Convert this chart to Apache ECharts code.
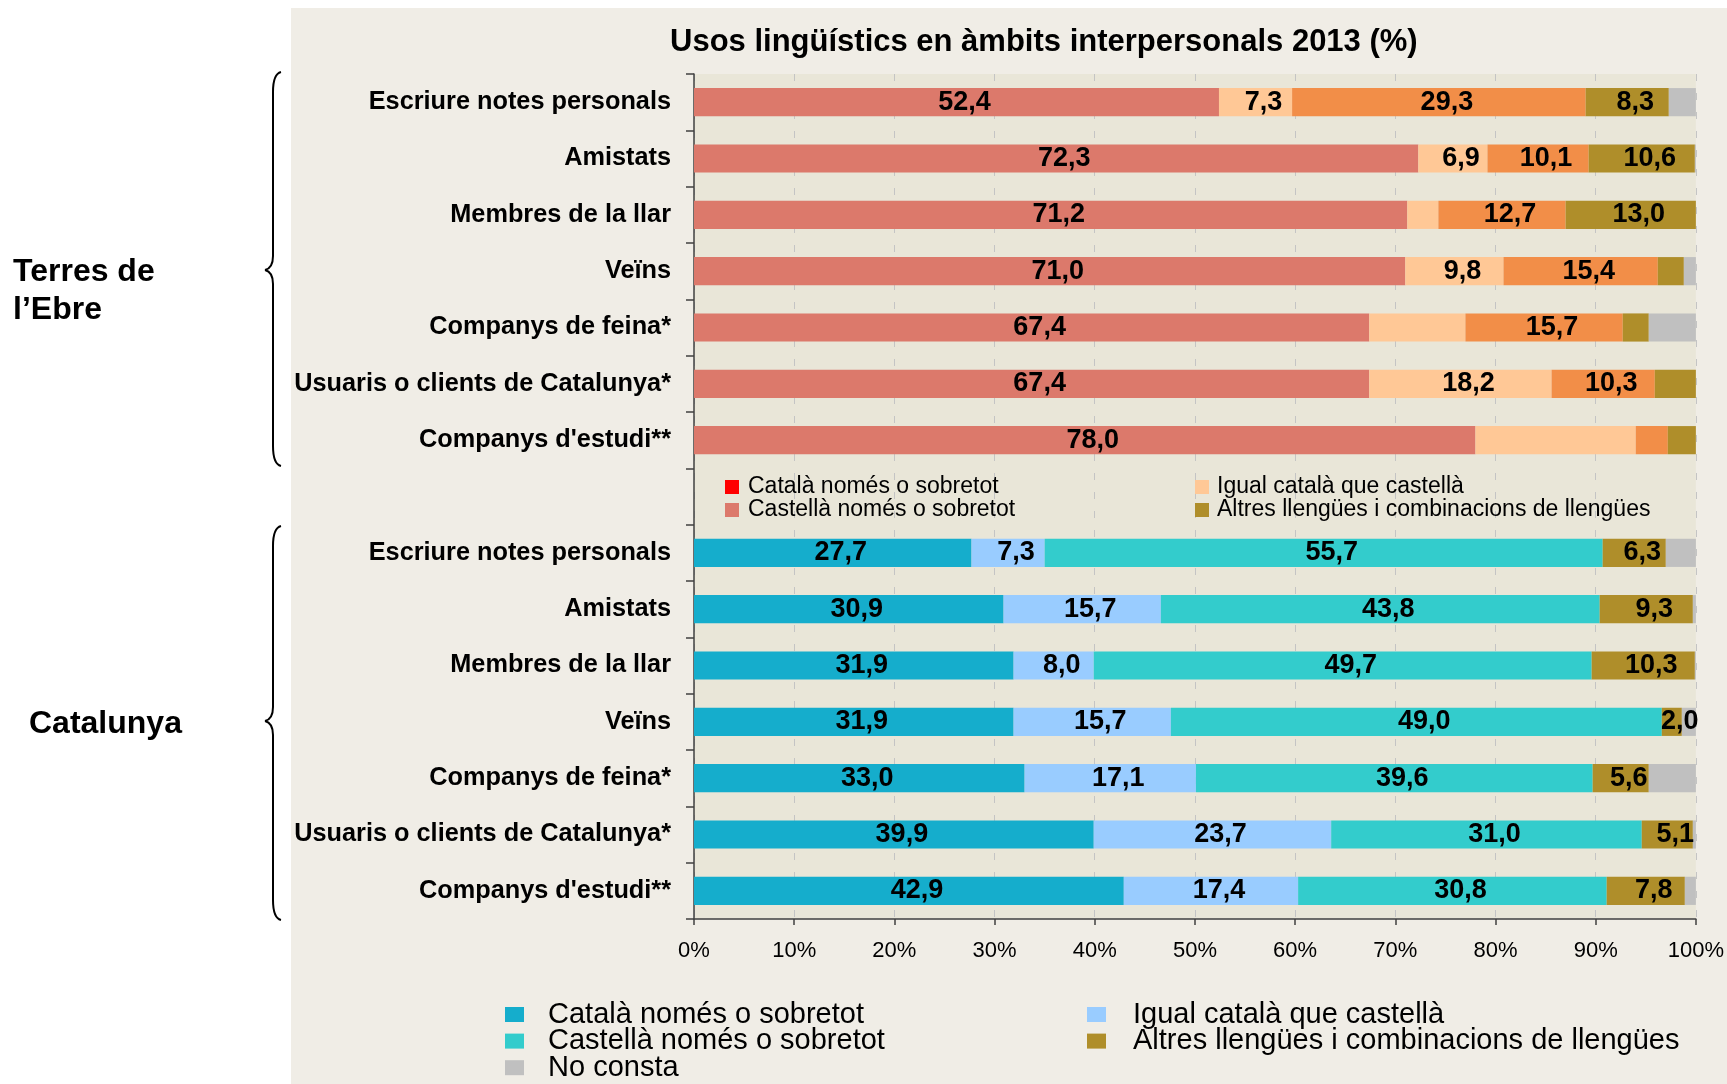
<!DOCTYPE html>
<html>
<head>
<meta charset="utf-8">
<script src="https://cdn.jsdelivr.net/npm/echarts@6/dist/echarts.min.js"></script>
<style>
  html, body { margin: 0; padding: 0; background: #ffffff; }
  #chart { width: 1727px; height: 1084px; }
</style>
</head>
<body>
<div id="chart"></div>
<script>
// ---------- DATA ----------
const categories = ['Escriure notes personals', 'Amistats', 'Membres de la llar', 'Veïns',
  'Companys de feina*', 'Usuaris o clients de Catalunya*', "Companys d'estudi**"];

const seriesNames = ['Català només o sobretot', 'Igual català que castellà',
  'Castellà només o sobretot', 'Altres llengües i combinacions de llengües', 'No consta'];

// Terres de l'Ebre
const terresCatala   = [52.4, 72.3, 71.2, 71.0, 67.4, 67.4, 78.0];
const terresIgual    = [7.3, 6.9, 3.1, 9.8, 9.6, 18.2, 16.0];
const terresCastella = [29.3, 10.1, 12.7, 15.4, 15.7, 10.3, 3.2];
const terresAltres   = [8.3, 10.6, 13.0, 2.6, 2.6, 4.1, 2.8];
const terresNoConsta = [2.7, 0.1, 0.0, 1.2, 4.7, 0.0, 0.0];

// Catalunya
const catCatala   = [27.7, 30.9, 31.9, 31.9, 33.0, 39.9, 42.9];
const catIgual    = [7.3, 15.7, 8.0, 15.7, 17.1, 23.7, 17.4];
const catCastella = [55.7, 43.8, 49.7, 49.0, 39.6, 31.0, 30.8];
const catAltres   = [6.3, 9.3, 10.3, 2.0, 5.6, 5.1, 7.8];
const catNoConsta = [3.0, 0.3, 0.1, 1.4, 4.7, 0.3, 1.1];

// which segments carry a value label in the original (1 = labelled)
const terresCatalaLbl   = [1, 1, 1, 1, 1, 1, 1];
const terresIgualLbl    = [1, 1, 0, 1, 0, 1, 0];
const terresCastellaLbl = [1, 1, 1, 1, 1, 1, 0];
const terresAltresLbl   = [1, 1, 1, 0, 0, 0, 0];
const noLbl             = [0, 0, 0, 0, 0, 0, 0];
const allLbl            = [1, 1, 1, 1, 1, 1, 1];

const xTicks = [0, 10, 20, 30, 40, 50, 60, 70, 80, 90, 100];

// ---------- STYLE ----------
const FONT = "'Liberation Sans', Arial, Helvetica, sans-serif";
const colTerres = ['#DC796B', '#FFC896', '#F28E48', '#AF8E2A', '#C0C0C0'];
const colCat    = ['#15ADCC', '#99CCFF', '#33CCCC', '#AF8E2A', '#C0C0C0'];

const yCategories = categories.concat([''], categories);
const gap = ['-', '-', '-', '-', '-', '-', '-', '-'];

function fmt(v) { return v.toFixed(1).replace('.', ','); }

function buildSeries(name, vals, lbl, color, first) {
  const items = vals.map((v, i) => ({ value: v, label: { show: !!lbl[i] } }));
  return {
    name: name,
    type: 'bar',
    stack: 'total',
    barWidth: '50%',
    itemStyle: { color: color },
    label: {
      position: 'inside',
      offset: [8, 0],
      color: '#000',
      fontFamily: FONT,
      fontWeight: 'bold',
      fontSize: 27,
      formatter: p => fmt(p.value)
    },
    emphasis: { disabled: true },
    data: first ? items.concat(gap) : gap.concat(items)
  };
}

const series = [
  buildSeries(seriesNames[0], catCatala,   allLbl, colCat[0], false),
  buildSeries(seriesNames[1], catIgual,    allLbl, colCat[1], false),
  buildSeries(seriesNames[2], catCastella, allLbl, colCat[2], false),
  buildSeries(seriesNames[3], catAltres,   allLbl, colCat[3], false),
  buildSeries(seriesNames[4], catNoConsta, noLbl,  colCat[4], false),
  buildSeries(seriesNames[0], terresCatala,   terresCatalaLbl,   colTerres[0], true),
  buildSeries(seriesNames[1], terresIgual,    terresIgualLbl,    colTerres[1], true),
  buildSeries(seriesNames[2], terresCastella, terresCastellaLbl, colTerres[2], true),
  buildSeries(seriesNames[3], terresAltres,   terresAltresLbl,   colTerres[3], true),
  buildSeries(seriesNames[4], terresNoConsta, noLbl,             colTerres[4], true)
];

function legendBox(left, top, names, colors, iw, ih, fs, lh, pad, gapY) {
  return {
    orient: 'vertical', left: left, top: top, padding: 0, itemGap: gapY,
    height: 150,
    itemWidth: iw, itemHeight: ih, icon: 'rect', selectedMode: false,
    data: names.map((n, i) => colors ? { name: n, itemStyle: { color: colors[i] } } : { name: n }),
    textStyle: { fontFamily: FONT, fontSize: fs, lineHeight: lh, color: '#000', padding: pad }
  };
}

// curly brace decoration (drawn with line + bezier pieces)
function brace(top, mid, bottom) {
  const xr = 281, xl = 273, xt = 265, st = { stroke: '#000', lineWidth: 2, fill: 'none' };
  const mk = (type, shape) => ({ type: type, silent: true, shape: shape, style: st });
  return [
    mk('bezierCurve', { x1: xr, y1: top, cpx1: xl, cpy1: top + 2, x2: xl, y2: top + 20 }),
    mk('line', { x1: xl, y1: top + 20, x2: xl, y2: mid - 14 }),
    mk('bezierCurve', { x1: xl, y1: mid - 14, cpx1: xl, cpy1: mid - 2, x2: xt, y2: mid }),
    mk('bezierCurve', { x1: xt, y1: mid, cpx1: xl, cpy1: mid + 2, x2: xl, y2: mid + 14 }),
    mk('line', { x1: xl, y1: mid + 14, x2: xl, y2: bottom - 20 }),
    mk('bezierCurve', { x1: xl, y1: bottom - 20, cpx1: xl, cpy1: bottom - 2, x2: xr, y2: bottom })
  ];
}

const chart = echarts.init(document.getElementById('chart'));
chart.setOption({
  backgroundColor: '#ffffff',
  animation: false,
  title: {
    text: 'Usos lingüístics en àmbits interpersonals 2013 (%)',
    left: 670, top: 27, padding: 0,
    textStyle: { fontFamily: FONT, fontSize: 31, fontWeight: 'bold', color: '#000' }
  },
  grid: {
    left: 694, right: 31, top: 74, bottom: 165,
    show: true, backgroundColor: '#E9E6D8', borderWidth: 0
  },
  legend: [
    legendBox(725, 475.5, [seriesNames[0], seriesNames[2]], ['#FF0000', colTerres[0]], 14, 14, 23, 23, [0, 0, 0, 4], 0),
    legendBox(1195, 475.5, [seriesNames[1], seriesNames[3]], [colTerres[1], colTerres[3]], 14, 14, 23, 23, [0, 0, 0, 3], 0),
    legendBox(505, 1000, [seriesNames[0], seriesNames[2], seriesNames[4]], null, 19, 15, 26.5, 26.5, [0, 0, 0, 19], -2.4),
    legendBox(1087, 1000, [seriesNames[1], seriesNames[3]], null, 19, 15, 26.5, 26.5, [0, 0, 0, 22], -2.4)
  ].map((l, i) => (i >= 2 ? Object.assign(l, { textStyle: Object.assign(l.textStyle, { fontSize: 29 }) }) : l)),
  xAxis: {
    type: 'value', min: xTicks[0], max: xTicks[xTicks.length - 1], interval: 10,
    axisLine: { show: true, lineStyle: { color: '#404040', width: 1.5 } },
    axisTick: { show: true, length: 6, lineStyle: { color: '#404040', width: 1.5 } },
    axisLabel: { formatter: '{value}%', fontFamily: FONT, fontSize: 22, color: '#000', margin: 21 },
    splitLine: { show: true, lineStyle: { color: '#C4C4C4', width: 1, type: [7, 12] } }
  },
  yAxis: {
    type: 'category', inverse: true, data: yCategories,
    axisLine: { show: true, lineStyle: { color: '#404040', width: 1.5 } },
    axisTick: { show: true, length: 8, interval: 0, lineStyle: { color: '#404040', width: 1.5 } },
    axisLabel: { interval: 0, fontFamily: FONT, fontSize: 25.3, fontWeight: 'bold', color: '#000', margin: 23 },
    splitLine: { show: false }
  },
  graphic: [
    { type: 'rect', z: -100, silent: true, shape: { x: 291, y: 8, width: 1436, height: 1076 }, style: { fill: '#F0EDE6' } },
    ...brace(72, 270, 466),
    ...brace(526, 721, 920),
    { type: 'text', silent: true, x: 13, y: 253,
      style: { text: 'Terres de\nl’Ebre', fontFamily: FONT, fontSize: 32, fontWeight: 'bold', fill: '#000', lineHeight: 38 } },
    { type: 'text', silent: true, x: 29, y: 705,
      style: { text: 'Catalunya', fontFamily: FONT, fontSize: 32, fontWeight: 'bold', fill: '#000', lineHeight: 38 } }
  ],
  series: series
});
</script>
</body>
</html>
